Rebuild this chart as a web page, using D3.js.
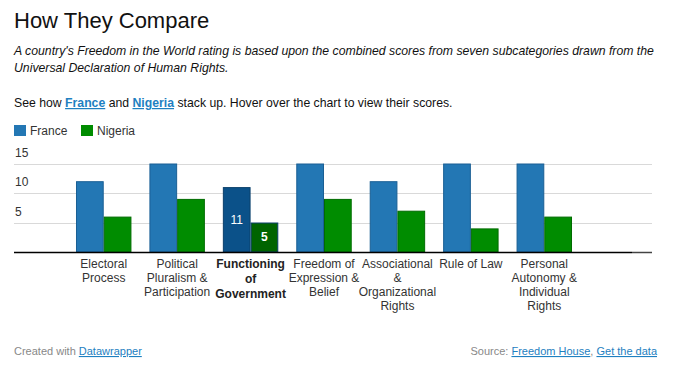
<!DOCTYPE html>
<html>
<head>
<meta charset="utf-8">
<script src="https://cdn.jsdelivr.net/npm/d3@7"></script>
<style>
  html, body { margin: 0; padding: 0; background: #fff; }
  svg { display: block; font-family: "Liberation Sans", Arial, Helvetica, sans-serif; }
</style>
</head>
<body>
<svg id="chart" width="681" height="372"></svg>
<script>
// ---- data ----
const categories = [
  ["Electoral", "Process"],
  ["Political", "Pluralism &", "Participation"],
  ["Functioning", "of", "Government"],
  ["Freedom of", "Expression &", "Belief"],
  ["Associational", "&", "Organizational", "Rights"],
  ["Rule of Law"],
  ["Personal", "Autonomy &", "Individual", "Rights"]
];
const seriesNames = ["France", "Nigeria"];
const franceValues = [12, 15, 11, 15, 12, 15, 15];
const nigeriaValues = [6, 9, 5, 9, 7, 4, 6];
const yTicks = [5, 10, 15];
const highlightIndex = 2;

const svg = d3.select("#chart");
const colors = { France: "#2377b4", Nigeria: "#008c00" };
const strokes = { France: "#1a5f94", Nigeria: "#006c00" };
const hiColors = { France: "#0b5189", Nigeria: "#006400" };

// ---- header ----
svg.append("text").attr("x", 14).attr("y", 28)
  .attr("font-size", 22).attr("font-weight", 300).attr("fill", "#111")
  .text("How They Compare");

const desc = svg.append("text").attr("font-size", 12.25).attr("font-style", "italic").attr("fill", "#111");
desc.append("tspan").attr("x", 14).attr("y", 55)
  .text("A country's Freedom in the World rating is based upon the combined scores from seven subcategories drawn from the");
desc.append("tspan").attr("x", 14).attr("y", 72)
  .text("Universal Declaration of Human Rights.");

const intro = svg.append("text").attr("x", 14).attr("y", 107).attr("font-size", 12.25).attr("fill", "#111");
intro.append("tspan").text("See how ");
intro.append("tspan").attr("font-weight", "bold").attr("fill", "#1e80c1").attr("text-decoration", "underline").text("France");
intro.append("tspan").text(" and ");
intro.append("tspan").attr("font-weight", "bold").attr("fill", "#1e80c1").attr("text-decoration", "underline").text("Nigeria");
intro.append("tspan").text(" stack up. Hover over the chart to view their scores.");

// ---- legend ----
const legendX = [14, 81];
seriesNames.forEach((s, i) => {
  const g = svg.append("g").attr("transform", `translate(${legendX[i]},125)`);
  g.append("rect").attr("width", 12).attr("height", 11).attr("fill", colors[s]);
  g.append("text").attr("x", 16).attr("y", 10).attr("font-size", 12).attr("fill", "#333").text(s);
});

// ---- scales ----
const x0 = d3.scaleBand().domain(d3.range(categories.length))
  .range([67, 581]).paddingInner(0.245).paddingOuter(0.1225);
const x1 = d3.scaleBand().domain(seriesNames).range([0, x0.bandwidth()]).padding(0);
const y = d3.scaleLinear().domain([0, 15]).range([252, 163.5]);

// grid
const grid = svg.append("g");
grid.selectAll("line").data(yTicks).join("line")
  .attr("x1", 14).attr("x2", 652)
  .attr("y1", d => Math.round(y(d)) + 0.5).attr("y2", d => Math.round(y(d)) + 0.5)
  .attr("stroke", "#d9d9d9").attr("stroke-width", 1);
grid.selectAll("text").data(yTicks).join("text")
  .attr("x", 15).attr("y", d => y(d) - 7)
  .attr("font-size", 12).attr("fill", "#333").text(d => d);

// bars
const data = categories.map((c, i) => ({ i, vals: [
  { s: "France", v: franceValues[i] }, { s: "Nigeria", v: nigeriaValues[i] }] }));
const groups = svg.append("g").selectAll("g").data(data).join("g")
  .attr("transform", d => `translate(${x0(d.i)},0)`);
groups.selectAll("rect").data(d => d.vals.map(v => ({ ...v, i: d.i }))).join("rect")
  .attr("x", d => x1(d.s) + 0.5)
  .attr("y", d => y(d.v) + 0.5)
  .attr("width", x1.bandwidth() - 1)
  .attr("height", d => y(0) - y(d.v) - 0.5)
  .attr("fill", d => d.i === highlightIndex ? hiColors[d.s] : colors[d.s])
  .attr("stroke", d => d.i === highlightIndex ? "#0a3f6b" : strokes[d.s])
  .attr("stroke-width", 1);
groups.filter(d => d.i === highlightIndex).selectAll("text.val")
  .data(d => d.vals).join("text").attr("class", "val")
  .attr("x", d => x1(d.s) + x1.bandwidth() / 2)
  .attr("y", d => (y(d.v) + y(0)) / 2 + 4)
  .attr("text-anchor", "middle").attr("font-size", 12)
  .attr("font-weight", d => d.s === "Nigeria" ? "bold" : "normal")
  .attr("fill", "#fff").text(d => d.v);

// baseline
svg.append("line").attr("x1", 14).attr("x2", 632).attr("y1", 252.5).attr("y2", 252.5)
  .attr("stroke", "#000").attr("stroke-width", 1.5);
svg.append("line").attr("x1", 632).attr("x2", 652).attr("y1", 252.5).attr("y2", 252.5)
  .attr("stroke", "#444").attr("stroke-width", 1.5);

// x labels
const xl = svg.append("g").selectAll("text").data(categories).join("text")
  .attr("text-anchor", "middle").attr("font-size", 12)
  .attr("fill", (d, i) => i === highlightIndex ? "#222" : "#333")
  .attr("font-weight", (d, i) => i === highlightIndex ? "bold" : "normal");
xl.each(function(d, i) {
  const cx = x0(i) + x0.bandwidth() / 2;
  const lh = i === highlightIndex ? 15 : 14;
  d3.select(this).selectAll("tspan").data(d).join("tspan")
    .attr("x", cx).attr("y", (t, k) => 268 + k * lh).text(t => t);
});

// ---- footer ----
const f1 = svg.append("text").attr("x", 14).attr("y", 355).attr("font-size", 11).attr("fill", "#888");
f1.append("tspan").text("Created with ");
f1.append("tspan").attr("fill", "#1e80c1").attr("text-decoration", "underline").text("Datawrapper");

const f2 = svg.append("text").attr("x", 657).attr("y", 355).attr("text-anchor", "end").attr("font-size", 11).attr("fill", "#888");
f2.append("tspan").text("Source: ");
f2.append("tspan").attr("fill", "#1e80c1").attr("text-decoration", "underline").text("Freedom House");
f2.append("tspan").text(", ");
f2.append("tspan").attr("fill", "#1e80c1").attr("text-decoration", "underline").text("Get the data");
</script>
</body>
</html>
